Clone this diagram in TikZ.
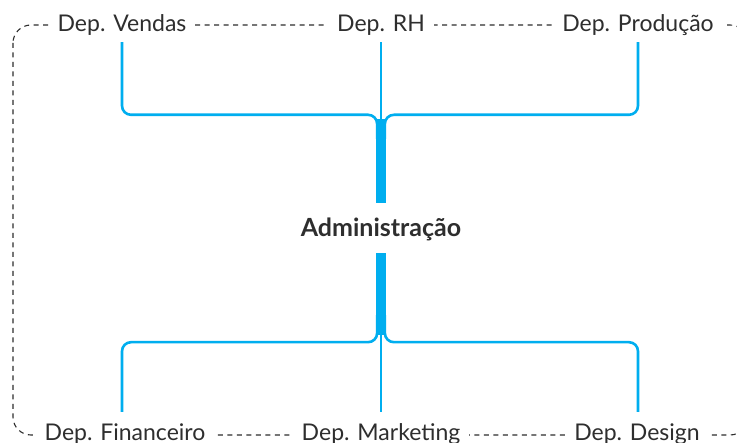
\documentclass[tikz,border=0pt]{standalone}
\usepackage{fontspec}
\setmainfont{Lato}
\definecolor{ink}{HTML}{2E2E2E}
\definecolor{orgblue}{HTML}{00AEEF}
\begin{document}
\begin{tikzpicture}[x=1pt,y=-1pt,
  dept/.style={fill=white, text=ink, font=\fontsize{23}{26}\selectfont,
    inner xsep=9pt, inner ysep=0pt, text height=17pt, text depth=5pt},
  head/.style={text=ink, font=\fontsize{25}{28}\selectfont\bfseries, inner sep=0pt},
  frame/.style={draw=ink, line width=1.1pt, dash pattern=on 5pt off 4.5pt, rounded corners=18pt},
  bar/.style={fill=orgblue, draw=none, minimum width=10pt, inner sep=0pt},
  branch/.style={draw=orgblue, line width=2.6pt, rounded corners=9pt},
  stem/.style={draw=orgblue, line width=2.4pt}]
\useasboundingbox (0,0) rectangle (737,443);
\fill[white] (0,0) rectangle (737,443);
% dashed outer frame (its right side runs past the page edge)
\draw[frame] (13,25) rectangle (748,435);

% departments
\node[dept] (vendas)   at (122,26)  {Dep. Vendas};
\node[dept] (rh)       at (381,26)  {Dep. RH};
\node[dept] (producao) at (638,26)  {Dep. Produção};
\node[dept] (fin)      at (125,435) {Dep. Financeiro};
\node[dept] (mkt)      at (381,435) {Dep. Marketing};
\node[dept] (design)   at (637,435) {Dep. Design};

% central trunk
\node[bar, minimum height=84pt] (topbar) at (381,161) {};
\node[bar, minimum height=82pt] (botbar) at (381,294) {};
\node[head] (admin) at (381,229) {Administração};

% upper branches
\draw[branch] ([yshift=-5pt]vendas.south) |- ([xshift=1.3pt,yshift=4pt]topbar.north west)
  -- ([xshift=1.3pt,yshift=-20pt]topbar.north west);
\draw[branch] ([yshift=-5pt]producao.south) |- ([xshift=-1.3pt,yshift=4pt]topbar.north east)
  -- ([xshift=-1.3pt,yshift=-20pt]topbar.north east);
\draw[stem] ([yshift=-5pt]rh.south) -- (topbar.north);

% lower branches
\draw[branch] ([xshift=-3pt,yshift=12pt]fin.north) |- ([xshift=1.3pt,yshift=-7pt]botbar.south west)
  -- ([xshift=1.3pt,yshift=20pt]botbar.south west);
\draw[branch] ([xshift=1pt,yshift=12pt]design.north) |- ([xshift=-1.3pt,yshift=-7pt]botbar.south east)
  -- ([xshift=-1.3pt,yshift=20pt]botbar.south east);
\draw[stem] (botbar.south) -- ([yshift=12pt]mkt.north);
\end{tikzpicture}
\end{document}
